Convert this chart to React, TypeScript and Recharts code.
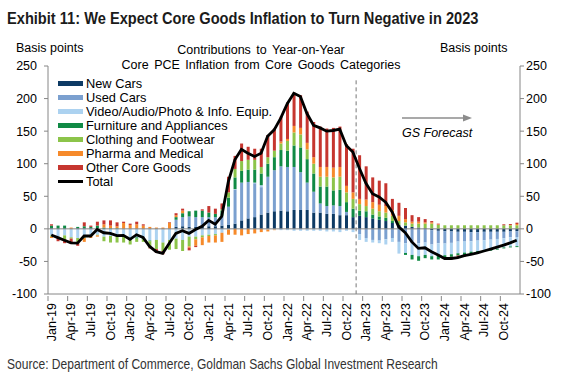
import { ComposedChart, Bar, Line, XAxis, YAxis, ReferenceLine } from 'recharts';

const MONTHS = ['Jan', 'Feb', 'Mar', 'Apr', 'May', 'Jun', 'Jul', 'Aug', 'Sep', 'Oct', 'Nov', 'Dec'];
const YEARS = ['19', '20', '21', '22', '23', '24'];
const categories = YEARS.flatMap((y) => MONTHS.map((m) => `${m}-${y}`));

const yTicks = [-100, -50, 0, 50, 100, 150, 200, 250];

// contributions, basis points (Jan-19 .. Dec-24)
const newCars = [
  1, 0, 0, 0, 1, 1, 1, 1, 0, 0, 0, 0,
  0, 0, 0, 0, 0, 0, 0, 3, 4, 3, 3, 4,
  4, 4, 5, 6, 8, 13, 16, 18, 22, 25, 27, 28,
  27, 29, 29, 29, 25, 25, 23, 23, 21, 21, 18, 20,
  18, 16, 14, 12, 9, 6, 5, 3, 2, 1, -2, -3,
  -3.5, -4, -4.5, -4.5, -5, -5, -4.5, -4.5, -4.5, -4.5, -4, -3.5,
];
const usedCars = [
  0, 0, 0, 0, 0, 0, 0, 0, 0, 0, 0, 0,
  0, 0, 0, 0, 0, -1, 0, 11, 14, 16, 15, 14,
  14, 14, 15, 28, 52, 58, 56, 52, 42, 55, 63, 68,
  68, 66, 58, 42, 32, 14, 12, 13, 14, 5, 0, -8,
  -14, -17, -18, -16, -14, -20, -22, -22, -22, -21, -22, -19,
  -19, -17.5, -15, -15, -14, -13, -13, -12, -11, -10, -9, -9,
];
const video = [
  -10, -12, -10, -13, -14, -12, -10, -9, -12, -11, -11, -12,
  -14, -13, -14, -18, -17, -20, -17, -15, -17, -12, -12, -10,
  -9, -8, -6, -1, 1, 0, 0, 1, 3, -1, -1, -2,
  -2, -3, -3, -3, -3, -3, -4, -4, -5, -3, -5, -9,
  -6, -4, -4, -8, -6, -18, -15, -18, -20, -19, -18, -18,
  -18, -17.5, -18, -17, -16, -16, -15, -15, -15, -14, -14, -14,
];
const furniture = [
  4, 5, 5, 0, 2, 3, 2, 4, 2, 1, 1, 0,
  -3, -2, -2, -1, 0, 0, 0, 4, 6, 8, 10, 10,
  7, 5, 8, 14, 18, 18, 19, 20, 18, 20, 20, 25,
  25, 33, 38, 36, 28, 26, 30, 23, 25, 15, 13, 8,
  9, 6, 5, 5, 3, 0, -3, -7, -7, -5, -5, -7,
  -3.5, -4, -3.5, -3.5, -2.5, -2, -2, -2, -1.5, -1.5, -1.5, -1.5,
];
const clothing = [
  -2, -2, -6, -2, -8, -2, -1, -1, -7, -10, -10, -9,
  -7, -5, -4, -10, -14, -13, -15, -16, -17, -15, -4, -3,
  -2, -2, 2, 8, 13, 15, 15, 15, 10, 10, 10, 10,
  15, 20, 20, 15, 15, 15, 15, 20, 20, 15, 15, 10,
  8, 9, 8, 8, 8, 6, 5, 5, 6, 7, 8, 6,
  5.5, 5.5, 5.5, 5.5, 5.5, 5.5, 5.5, 5.5, 5.5, 5.5, 5.5, 5.5,
];
const pharma = [
  -2, 0, 0, 2, 0, -6, -3, -2, 5, 4, 3, 9,
  6, 7, 5, 3, 2, 2, 9, 3, 4, -2, -10, -12,
  -10, -11, -14, -8, -9, -10, -8, -7, -5, -3, -1, 3,
  3, 10, 10, 10, 10, 15, 15, 15, 15, 10, 10, 8,
  10, 10, 10, 10, 9, 8, 5, 3, 3, 2, 2, 1,
  -2, 0, 0, 0, 0, 0, 0, 0, 0, 0, 0.5, 2,
];
const otherGoods = [
  2, -5, -6, -8, -4, 6, 2, 6, 6, 8, 6, 2,
  2, 4, 2, -1, -6, -5, 1, 3, 3, -4, -2, 2,
  10, 8, 9, 24, 20, 27, 20, 17, 28, 34, 34, 38,
  56, 51, 50, 48, 54, 62, 59, 61, 62, 64, 67, 67,
  51, 38, 37, 35, 17, 20, 17, 10, 7, 5, 2, 1,
  0, -4, -2.5, -2.5, -2.5, -1, 0, 0, 0, 1.5, 1.5, 2,
];
const total = [
  -9.5, -13.5, -17.5, -21.5, -22, -11, -11, -1, -6, -7, -10.5, -10,
  -16, -9, -13, -27, -35, -37.5, -22, -7, -3, -7, -1, 4,
  13, 7, 19, 72, 106, 122, 116, 111, 116, 142, 152, 170,
  192, 208, 203, 177, 159, 155, 150, 151, 153, 128, 118, 93,
  70, 54, 49, 41, 26, 3, -6, -20, -30, -29, -35, -40,
  -45.5, -45.5, -44, -41, -39, -37, -34, -31, -28, -25, -21.5, -17.5,
];

const series = [
  { key: 'newCars', name: 'New Cars', color: '#0d3a64', values: newCars },
  { key: 'usedCars', name: 'Used Cars', color: '#7ba0cf', values: usedCars },
  { key: 'video', name: 'Video/Audio/Photo & Info. Equip.', color: '#acd2f0', values: video },
  { key: 'furniture', name: 'Furniture and Appliances', color: '#108a45', values: furniture },
  { key: 'clothing', name: 'Clothing and Footwear', color: '#8cc44a', values: clothing },
  { key: 'pharma', name: 'Pharma and Medical', color: '#f68a2b', values: pharma },
  { key: 'other', name: 'Other Core Goods', color: '#c6362f', values: otherGoods },
];

const data = categories.map((month, i) => {
  const row: Record<string, string | number> = { month, total: total[i] };
  series.forEach((s) => (row[s.key] = s.values[i]));
  return row;
});

const FONT = '"Liberation Sans", Arial, sans-serif';
const NARROW = '"Liberation Sans Narrow", "Liberation Sans", sans-serif';
const AXIS = '#868686';
const BAND = 472 / categories.length;

function MonthTick(props: any) {
  const { x, y, payload } = props;
  const bx = x - BAND / 2;
  return (
    <g>
      <line x1={bx} x2={bx} y1={y} y2={y + 5} stroke={AXIS} />
      <text
        x={x}
        y={y + 7}
        transform={`rotate(-90 ${x} ${y + 7})`}
        textAnchor="end"
        dy="0.36em"
        fontSize={12.5}
        fontFamily={FONT}
        fill="#000"
      >
        {payload.value}
      </text>
    </g>
  );
}

export default function App() {
  const tickStyle = { fontSize: 12.5, fontFamily: FONT, fill: '#000' };
  return (
    <div style={{ position: 'absolute', left: 0, top: 0, width: 568, height: 383, background: '#fff', fontFamily: FONT }}>
      <div style={{ position: 'absolute', left: 7, top: 9, fontFamily: NARROW, fontWeight: 700, fontSize: 17, color: '#1b1b1b', whiteSpace: 'nowrap', transform: 'scaleX(0.86)', transformOrigin: 'left' }}>
        Exhibit 11: We Expect Core Goods Inflation to Turn Negative in 2023
      </div>
      <div style={{ position: 'absolute', left: 16, top: 41, fontSize: 12.5 }}>Basis points</div>
      <div style={{ position: 'absolute', left: 440, top: 41, fontSize: 12.5 }}>Basis points</div>
      <div style={{ position: 'absolute', left: 111, top: 43, width: 300, textAlign: 'center', fontSize: 12.5, lineHeight: '15px', wordSpacing: 2 }}>
        Contributions to Year-on-Year
        <br />
        Core PCE Inflation from Core Goods Categories
      </div>

      <ComposedChart
        width={568}
        height={383}
        data={data}
        stackOffset="sign"
        margin={{ top: 66, right: 8, bottom: 44, left: 8 }}
        style={{ position: 'absolute', left: 0, top: 0 }}
      >
        <XAxis
          dataKey="month"
          interval={2}
          tickLine={false}
          tickSize={0}
          height={45}
          axisLine={{ stroke: AXIS }}
          tick={<MonthTick />}
        />
        <YAxis
          yAxisId="left"
          domain={[-100, 250]}
          ticks={yTicks}
          width={40}
          tickSize={4}
          tickMargin={7}
          axisLine={{ stroke: AXIS }}
          tickLine={{ stroke: AXIS }}
          tick={tickStyle}
        />
        <YAxis
          yAxisId="right"
          orientation="right"
          domain={[-100, 250]}
          ticks={yTicks}
          width={40}
          tickSize={4}
          tickMargin={2}
          axisLine={{ stroke: AXIS }}
          tickLine={{ stroke: AXIS }}
          tick={tickStyle}
        />
        <ReferenceLine yAxisId="right" y={0} stroke={AXIS} />
        {series.map((s) => (
          <Bar
            key={s.key}
            yAxisId="left"
            dataKey={s.key}
            name={s.name}
            stackId="a"
            fill={s.color}
            barSize={3}
            isAnimationActive={false}
          />
        ))}
        <ReferenceLine
          yAxisId="left"
          position="start"
          segment={[
            { x: 'Dec-22', y: 228 },
            { x: 'Dec-22', y: -100 },
          ]}
          stroke="#777"
          strokeDasharray="4 3"
        />
        <Line
          yAxisId="right"
          dataKey="total"
          name="Total"
          type="linear"
          stroke="#000"
          strokeWidth={2.8}
          dot={false}
          isAnimationActive={false}
        />
      </ComposedChart>

      <div style={{ position: 'absolute', left: 58, top: 77, fontSize: 12.8 }}>
        {[...series.map((s) => ({ name: s.name, color: s.color, h: 5 })), { name: 'Total', color: '#000', h: 3 }].map((e) => (
          <div key={e.name} style={{ display: 'flex', alignItems: 'center', height: 13.9 }}>
            <span style={{ display: 'inline-block', width: 25, height: e.h, background: e.color, marginRight: 3 }} />
            <span style={{ whiteSpace: 'nowrap' }}>{e.name}</span>
          </div>
        ))}
      </div>

      <svg style={{ position: 'absolute', left: 0, top: 0 }} width={568} height={383}>
        <line x1={402} y1={118} x2={465} y2={118} stroke="#8c8c8c" strokeWidth={1.3} />
        <polygon points="472,118 463,114.5 463,121.5" fill="#8c8c8c" />
      </svg>
      <div style={{ position: 'absolute', left: 402, top: 126, fontSize: 12.5, fontStyle: 'italic' }}>GS Forecast</div>

      <div style={{ position: 'absolute', left: 7, top: 356, fontFamily: NARROW, fontSize: 14.5, color: '#333', whiteSpace: 'nowrap', transform: 'scaleX(0.83)', transformOrigin: 'left' }}>
        Source: Department of Commerce, Goldman Sachs Global Investment Research
      </div>
    </div>
  );
}
